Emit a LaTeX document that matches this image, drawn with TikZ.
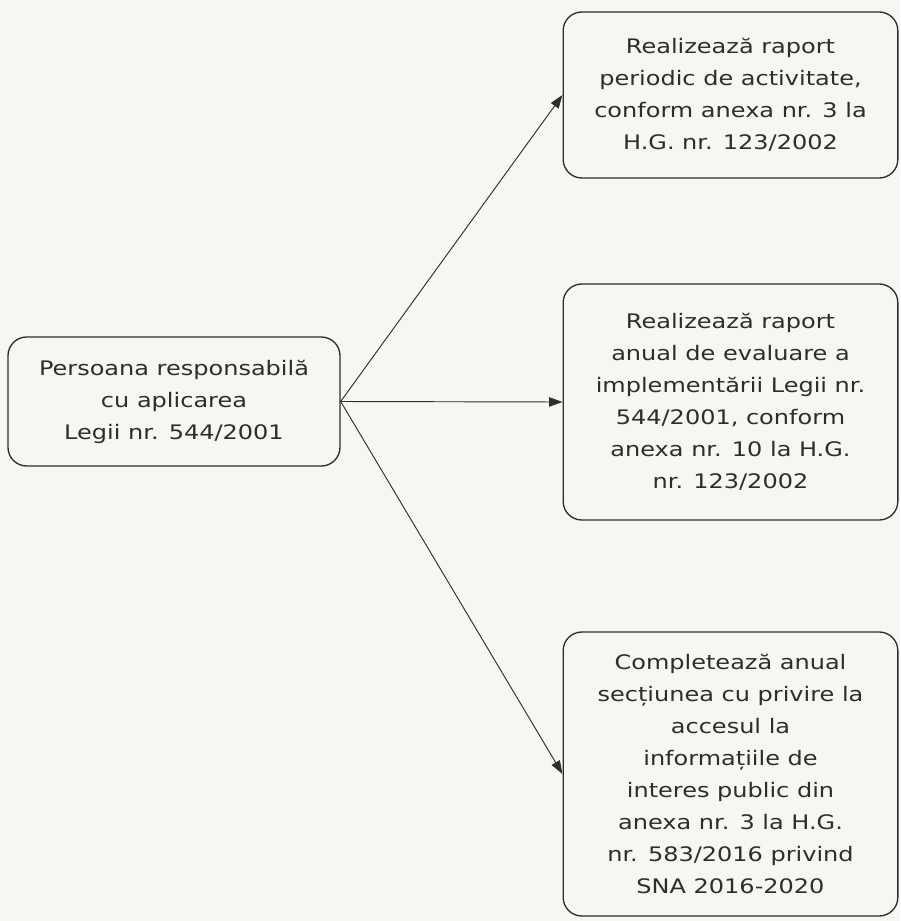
\documentclass[tikz,border=0pt]{standalone}
\usepackage{fontspec}
\setmainfont{DejaVu Sans}[FakeStretch=1.2]
\usetikzlibrary{arrows.meta}
\definecolor{paper}{RGB}{248,246,242}
\definecolor{ink}{RGB}{45,45,45}
\begin{document}
\begin{tikzpicture}[x=0.75pt,y=-0.75pt,
  box/.style={draw=ink,line width=1pt,rounded corners=14pt,align=center,
    text=ink,inner sep=2pt,font=\fontsize{15pt}{24pt}\selectfont},
  conn/.style={draw=ink,line width=0.7pt,-{Triangle[length=10pt,width=7pt]}}]
\fill[paper] (0,0) rectangle (900,921);
\useasboundingbox (0,0) rectangle (900,921);
\node[box,minimum width=249pt,minimum height=96.75pt] (src) at (174,401.5)
  {Persoana responsabilă\\cu aplicarea\\Legii nr. 544/2001};
\node[box,minimum width=251pt,minimum height=124.5pt] (r1) at (730.5,95)
  {Realizează raport\\periodic de activitate,\\conform anexa nr. 3 la\\H.G. nr. 123/2002};
\node[box,minimum width=251pt,minimum height=177pt] (r2) at (730.5,402)
  {Realizează raport\\anual de evaluare a\\implementării Legii nr.\\544/2001, conform\\anexa nr. 10 la H.G.\\nr. 123/2002};
\node[box,minimum width=251pt,minimum height=213pt] (r3) at (730.5,774)
  {Completează anual\\secțiunea cu privire la\\accesul la\\informațiile de\\interes public din\\anexa nr. 3 la H.G.\\nr. 583/2016 privind\\SNA 2016-2020};
\draw[conn] (src.east) -- (r1.west);
\draw[conn] (src.east) -- (r2.west);
\draw[conn] (src.east) -- (r3.west);
\end{tikzpicture}
\end{document}
